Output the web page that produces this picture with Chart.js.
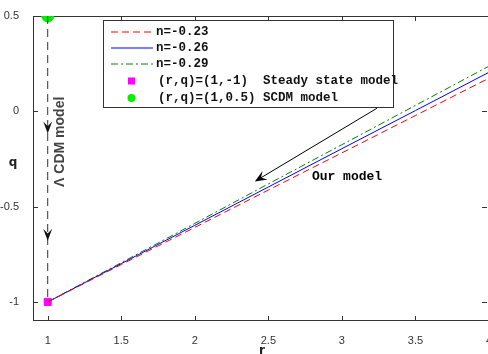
<!DOCTYPE html>
<html><head><meta charset="utf-8">
<script src="https://cdn.jsdelivr.net/npm/chart.js@4/dist/chart.umd.min.js"></script>
<style>html,body{margin:0;padding:0;background:#fff;}canvas{display:block;}</style>
</head><body>
<canvas id="c" width="488" height="354"></canvas>
<script>
const rValues = [1, 1.5, 2, 2.5, 3, 3.5, 4];
const qN023 = [-1, -0.804, -0.609, -0.413, -0.218, -0.022, 0.174];
const qN026 = [-1, -0.799, -0.598, -0.397, -0.196, 0.004, 0.205];
const qN029 = [-1, -0.794, -0.588, -0.381, -0.175, 0.031, 0.237];
const seriesLabels = ['n=-0.23', 'n=-0.26', 'n=-0.29'];
const steadyPoint = {x: 1, y: -1};
const scdmPoint = {x: 1, y: 0.5};
const pointLabels = ['(r,q)=(1,-1)  Steady state model', '(r,q)=(1,0.5) SCDM model'];
const xTicks = [1, 1.5, 2, 2.5, 3, 3.5, 4];
const yTicks = [-1, -0.5, 0, 0.5];
const xRange = [0.9, 4];
const yRange = [-1.1, 0.5];
const lcdmLine = [{x: 1, y: 0.5}, {x: 1, y: -1}];
const lcdmArrowQ = [-0.116, -0.679];
const lcdmText = {label: 'Λ CDM model', x: 1.082, y: -0.16};
const ourArrow = {from: {x: 3.238, y: 0.016}, to: {x: 2.408, y: -0.368}};
const ourText = {label: 'Our model', x: 2.796, y: -0.358};
const xLabel = 'r', yLabel = 'q';

function arrowHead(ctx, x1, y1, x2, y2, len, w) {
  const a = Math.atan2(y2 - y1, x2 - x1);
  ctx.beginPath();
  ctx.moveTo(x2, y2);
  ctx.lineTo(x2 - len*Math.cos(a) + w*Math.sin(a), y2 - len*Math.sin(a) - w*Math.cos(a));
  ctx.lineTo(x2 - 0.6*len*Math.cos(a), y2 - 0.6*len*Math.sin(a));
  ctx.lineTo(x2 - len*Math.cos(a) - w*Math.sin(a), y2 - len*Math.sin(a) + w*Math.cos(a));
  ctx.closePath();
  ctx.fill();
}

const extras = {
  id: 'extras',
  afterLayout(chart) {
    const xs = chart.scales.x;
    const newRight = 489;
    chart.chartArea.right = newRight;
    chart.chartArea.width = newRight - chart.chartArea.left;
    xs.right = newRight;
    xs.width = newRight - xs.left;
    xs.configure();
  },
  beforeDatasetsDraw(chart) {
    const {ctx, chartArea: ca} = chart;
    const xs = chart.scales.x, ys = chart.scales.y;
    ctx.save();
    ctx.strokeStyle = '#333';
    ctx.lineWidth = 1;
    ctx.strokeRect(ca.left + 0.5, ca.top + 0.5, ca.right - ca.left - 1, ca.bottom - ca.top - 1);
    ctx.beginPath();
    xTicks.forEach(t => { const px = Math.round(xs.getPixelForValue(t)) + 0.5;
      ctx.moveTo(px, ca.bottom); ctx.lineTo(px, ca.bottom - 5);
      ctx.moveTo(px, ca.top); ctx.lineTo(px, ca.top + 5); });
    yTicks.forEach(t => { const py = Math.round(ys.getPixelForValue(t)) + 0.5;
      ctx.moveTo(ca.left, py); ctx.lineTo(ca.left + 5, py);
      ctx.moveTo(ca.right - 2, py); ctx.lineTo(ca.right - 7, py); });
    ctx.stroke();
    ctx.restore();
  },
  afterDatasetsDraw(chart) {
    const {ctx, chartArea: ca} = chart;
    const xs = chart.scales.x, ys = chart.scales.y;
    ctx.save();
    ctx.fillStyle = '#111';
    lcdmArrowQ.forEach(q => {
      const px = xs.getPixelForValue(1), py = ys.getPixelForValue(q);
      arrowHead(ctx, px, py - 10, px, py, 12, 4.5);
    });
    ctx.save();
    ctx.translate(xs.getPixelForValue(lcdmText.x), ys.getPixelForValue(lcdmText.y));
    ctx.rotate(-Math.PI/2);
    ctx.font = 'bold 14px "Liberation Sans"';
    ctx.fillStyle = '#444';
    ctx.textAlign = 'center'; ctx.textBaseline = 'middle';
    ctx.fillText(lcdmText.label, 0, 0);
    ctx.restore();
    const x1 = xs.getPixelForValue(ourArrow.from.x), y1 = ys.getPixelForValue(ourArrow.from.y);
    const x2 = xs.getPixelForValue(ourArrow.to.x), y2 = ys.getPixelForValue(ourArrow.to.y);
    const d = Math.hypot(x1 - x2, y1 - y2);
    ctx.strokeStyle = '#000'; ctx.lineWidth = 1;
    ctx.beginPath(); ctx.moveTo(x1, y1); ctx.lineTo(x2 + 6*(x1-x2)/d, y2 + 6*(y1-y2)/d); ctx.stroke();
    ctx.fillStyle = '#000';
    arrowHead(ctx, x1, y1, x2, y2, 12, 5);
    ctx.font = 'bold 13px "Liberation Mono"';
    ctx.textAlign = 'left'; ctx.textBaseline = 'alphabetic';
    ctx.fillText(ourText.label, xs.getPixelForValue(ourText.x), ys.getPixelForValue(ourText.y));
    // Legend
    const L = ca.left + 70, T = ca.top + 4, R = ca.left + 360, B = ca.top + 91;
    ctx.fillStyle = '#fff';
    ctx.fillRect(L, T, R - L, B - T);
    ctx.strokeStyle = '#333'; ctx.lineWidth = 1;
    ctx.strokeRect(L + 0.5, T + 0.5, R - L, B - T);
    const rows = [12, 28, 44, 61, 78];
    const ds = chart.data.datasets;
    ctx.font = 'bold 12.5px "Liberation Mono"';
    ctx.textBaseline = 'middle';
    for (let i = 0; i < 3; i++) {
      const y = T + rows[i];
      ctx.strokeStyle = ds[i].borderColor; ctx.lineWidth = ds[i].borderWidth;
      ctx.setLineDash(ds[i].borderDash || []);
      ctx.beginPath(); ctx.moveTo(L + 8, y); ctx.lineTo(L + 50, y); ctx.stroke();
      ctx.setLineDash([]);
      ctx.fillStyle = '#111';
      ctx.fillText(seriesLabels[i], L + 53, y);
    }
    let y = T + rows[3];
    ctx.fillStyle = '#ff00ff';
    ctx.fillRect(L + 25, y - 3.5, 7, 7);
    ctx.fillStyle = '#111';
    ctx.fillText(pointLabels[0], L + 55, y);
    y = T + rows[4];
    ctx.fillStyle = '#00ee00';
    ctx.beginPath(); ctx.arc(L + 28.5, y, 4, 0, Math.PI*2); ctx.fill();
    ctx.fillStyle = '#111';
    ctx.fillText(pointLabels[1], L + 55, y);
    ctx.font = 'bold 12px "DejaVu Sans"';
    ctx.fillStyle = '#222';
    ctx.textAlign = 'center';
    ctx.fillText(yLabel, 13, 163);
    ctx.fillText(xLabel, 262, 351);
    ctx.restore();
  }
};

new Chart(document.getElementById('c'), {
  type: 'scatter',
  data: {
    datasets: [
      {label: seriesLabels[0], data: rValues.map((r, i) => ({x: r, y: qN023[i]})), showLine: true, borderColor: '#ff0000', borderWidth: 1, borderDash: [7, 4], pointRadius: 0},
      {label: seriesLabels[1], data: rValues.map((r, i) => ({x: r, y: qN026[i]})), showLine: true, borderColor: '#0000ff', borderWidth: 1, pointRadius: 0},
      {label: seriesLabels[2], data: rValues.map((r, i) => ({x: r, y: qN029[i]})), showLine: true, borderColor: '#008000', borderWidth: 1, borderDash: [7, 3, 2, 3], pointRadius: 0},
      {label: 'lcdm', data: lcdmLine, showLine: true, borderColor: '#333', borderWidth: 1, borderDash: [8, 5], pointRadius: 0},
      {label: pointLabels[0], data: [steadyPoint], pointStyle: 'rect', pointRadius: 5, backgroundColor: '#ff00ff', borderColor: '#ff00ff'},
      {label: pointLabels[1], data: [scdmPoint], pointStyle: 'circle', pointRadius: 6, backgroundColor: '#00ee00', borderColor: '#00ee00'}
    ]
  },
  options: {
    responsive: false,
    animation: false,
    layout: {padding: {top: 16, right: 0, left: 0, bottom: 0}},
    plugins: {legend: {display: false}, tooltip: {enabled: false}},
    scales: {
      x: {
        type: 'linear', min: xRange[0], max: xRange[1],
        grid: {display: false}, border: {display: false},
        afterBuildTicks: s => { s.ticks = xTicks.map(v => ({value: v})); },
        afterFit: s => { s.height = 33; s.paddingLeft = 0; s.paddingRight = 0; },
        ticks: {color: '#333', font: {family: 'Liberation Sans', size: 11}, padding: 5, maxRotation: 0, callback: v => String(v)}
      },
      y: {
        type: 'linear', min: yRange[0], max: yRange[1],
        grid: {display: false}, border: {display: false},
        afterBuildTicks: s => { s.ticks = yTicks.map(v => ({value: v})); },
        afterFit: s => { s.width = 33; s.paddingTop = 0; s.paddingBottom = 0; },
        ticks: {color: '#333', font: {family: 'Liberation Sans', size: 11}, padding: 6, callback: v => String(v)}
      }
    }
  },
  plugins: [extras]
});
</script>
</body></html>
